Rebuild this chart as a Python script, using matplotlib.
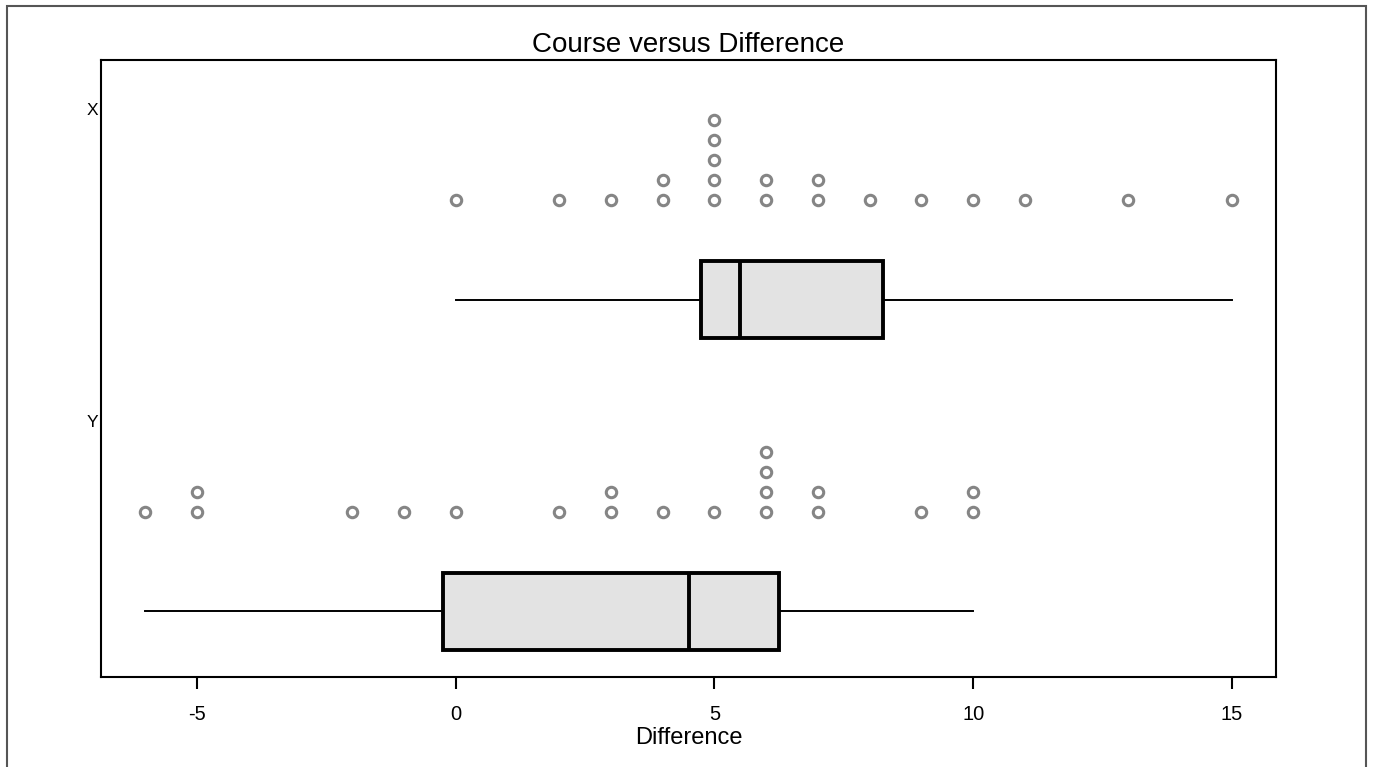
import matplotlib
matplotlib.use("Agg")
import matplotlib.pyplot as plt
import numpy as np
from matplotlib.patches import Rectangle
from matplotlib.transforms import blended_transform_factory

plt.rcParams['font.family'] = ['Liberation Sans', 'DejaVu Sans']

groups = ["X", "Y"]
x_values = [0, 2, 3, 4, 4, 5, 5, 5, 5, 5, 6, 6, 7, 7, 8, 9, 10, 11, 13, 15]
y_values = [-6, -5, -5, -2, -1, 0, 2, 3, 3, 4, 5, 6, 6, 6, 6, 7, 7, 9, 10, 10]
data = [x_values, y_values]
xticks = [-5, 0, 5, 10, 15]

fig = plt.figure(figsize=(13.75, 7.67), dpi=100)
ax = fig.add_axes([101/1375, 1 - 677/767, 1175/1375, 617/767])

positions = [1, 2]
bp = ax.boxplot(data, positions=positions, vert=False, whis=(0, 100),
                widths=0.247, patch_artist=True, showfliers=False,
                showcaps=False,
                boxprops=dict(facecolor='#e3e3e3', edgecolor='black', linewidth=2.8),
                medianprops=dict(color='black', linewidth=2.8),
                whiskerprops=dict(color='black', linewidth=1.4))

# stacked dots
dot_offset = -0.319
step = 0.064
for pos, vals in zip(positions, data):
    counts = {}
    for v in vals:
        k = counts.get(v, 0)
        counts[v] = k + 1
        ax.plot(v, pos + dot_offset - k * step, 'o', ms=7.5, mfc='none',
                mec='#858585', mew=2.2, zorder=3)

ax.set_xlim(-6.85, 15.85)
ax.set_ylim(2.21, 0.232)
ax.set_yticks([])
ax.set_xticks(xticks)
ax.set_xticklabels([str(t) for t in xticks], fontsize=14.5)
ax.tick_params(axis='x', length=8.5, width=1.5, pad=12, colors='black')
for s in ax.spines.values():
    s.set_linewidth(1.5)
    s.set_color('black')

ax.set_title("Course versus Difference", fontsize=20, pad=6)
ax.set_xlabel("Difference", fontsize=17, labelpad=2)

trans = blended_transform_factory(ax.transAxes, ax.transData)
label_pos = [0.393, 1.393]
for lab, yp in zip(groups, label_pos):
    ax.text(-0.002, yp, lab, transform=trans, ha='right', va='center', fontsize=12.5)

# outer frame
fig.patches.append(Rectangle((7/1375, -0.1), (1366-7)/1375, 1.1 - 6/767,
                             transform=fig.transFigure, fill=False,
                             edgecolor='#555555', linewidth=1.5, zorder=0))

fig.savefig("out.png", dpi=100)
